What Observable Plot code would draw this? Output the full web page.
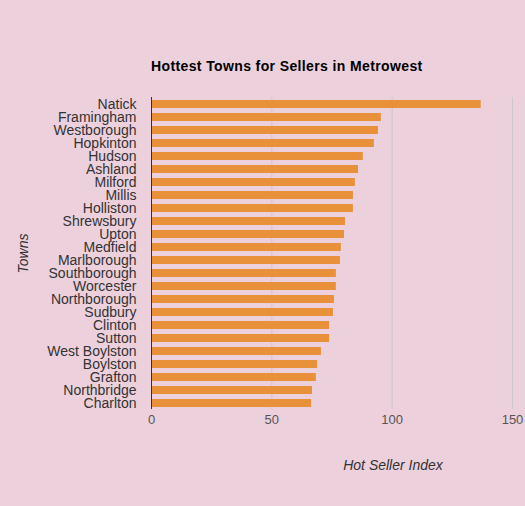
<!DOCTYPE html>
<html><head><meta charset="utf-8">
<script src="https://cdn.jsdelivr.net/npm/d3@7"></script>
<script src="https://cdn.jsdelivr.net/npm/@observablehq/plot@0.6"></script>
<style>
html,body{margin:0;padding:0;background:#ecd0dc;font-family:"Liberation Sans",Arial,sans-serif;}
body{width:525px;height:506px;position:relative;overflow:hidden;}
#title{position:absolute;left:151px;top:58px;font-size:14px;letter-spacing:0.38px;font-weight:bold;color:#000;line-height:17px;white-space:nowrap;}
#chart{position:absolute;left:0;top:76px;}
</style></head><body>
<div id="title"></div>
<div id="chart"></div>
<script>
const titleText = "Hottest Towns for Sellers in Metrowest";
const xLabel = "Hot Seller Index";
const yLabel = "Towns";
const towns = ["Natick","Framingham","Westborough","Hopkinton","Hudson","Ashland","Milford","Millis","Holliston","Shrewsbury","Upton","Medfield","Marlborough","Southborough","Worcester","Northborough","Sudbury","Clinton","Sutton","West Boylston","Boylston","Grafton","Northbridge","Charlton"];
const values = [137.0,95.5,94.3,92.6,88.0,86.0,84.7,83.9,83.9,80.6,80.2,78.9,78.5,76.8,76.8,76.0,75.6,74.0,74.0,70.6,69.0,68.5,66.9,66.5];
const xTicks = [0,50,100,150];

document.getElementById("title").textContent = titleText;
const data = towns.map((t,i)=>({town:t, value:values[i]}));

const plot = Plot.plot({
  width:525, height:430,
  marginLeft:151, marginRight:13, marginTop:21, marginBottom:97,
  style:{background:"transparent", fontFamily:"'Liberation Sans', Arial, sans-serif", fontSize:"14px", color:"#333", overflow:"visible"},
  x:{domain:[0,150], label:null},
  y:{domain:towns, paddingInner:0.4, paddingOuter:0.2, label:null},
  marks:[
    Plot.gridX(xTicks.slice(1), {stroke:"#c9c9c9", strokeOpacity:1}),
    Plot.barX(data, {x:"value", y:"town", fill:"#e8913a"}),
    Plot.ruleX([0], {stroke:"#333", strokeWidth:1}),
    Plot.axisX(xTicks, {tickSize:0, tickPadding:5, fill:"#555", fontSize:13, label:null}),
    Plot.axisY({tickSize:0, tickPadding:15, fill:"#333", fontSize:14, label:null}),
    Plot.text([yLabel], {text:d=>d, frameAnchor:"left", textAnchor:"middle", dx:-128, rotate:-90, fontStyle:"italic", fontSize:14, fill:"#333"}),
    Plot.text([xLabel], {text:d=>d, frameAnchor:"bottom", textAnchor:"middle", dx:61, dy:60, fontStyle:"italic", fontSize:14, fill:"#333"})
  ]
});
document.getElementById("chart").appendChild(plot);
</script>
</body></html>
